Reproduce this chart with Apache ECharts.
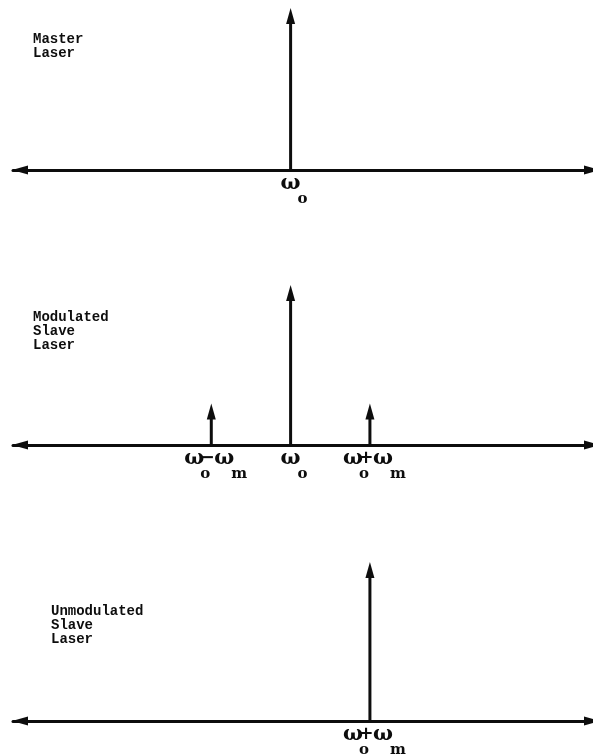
<!DOCTYPE html>
<html><head><meta charset="utf-8">
<script src="https://cdn.jsdelivr.net/npm/echarts@6/dist/echarts.min.js"></script>
<style>html,body{margin:0;padding:0;background:#fff}#c{width:593px;height:755px}</style>
</head><body><div id="c"></div>
<script>
// ---- data ----
const panelTitles = ['Master\nLaser', 'Modulated\nSlave\nLaser', 'Unmodulated\nSlave\nLaser'];
// frequency in units of omega_m, relative to omega_o
const masterFreq = [0];
const masterAmp = [1];
const modFreq = [-1, 0, 1];
const modAmp = [0.26, 1, 0.26];
const unmodFreq = [1];
const unmodAmp = [1];
const masterTickLabels = ['ω_o'];
const modTickLabels = ['ω_o−ω_m', 'ω_o', 'ω_o+ω_m'];
const unmodTickLabels = ['ω_o+ω_m'];
const xMin = -3.5, xMax = 3.8;

const freqs = [masterFreq, modFreq, unmodFreq];
const amps = [masterAmp, modAmp, unmodAmp];
const tickLabels = [masterTickLabels, modTickLabels, unmodTickLabels];

// ---- layout ----
const grids = [
  {left: 13, right: 1, top: 8, height: 162},
  {left: 13, right: 1, top: 285, height: 160},
  {left: 13, right: 1, top: 562, height: 159}
];
const titlePos = [[33, 32], [33, 310], [51, 604]];
const INK = '#0d0d0d';

function spikeItem(params, api) {
  const x = api.value(0), a = api.value(1);
  const base = api.coord([x, 0]);
  const tip = api.coord([x, a]);
  const headLen = 16, headW = 9;
  return {type: 'group', children: [
    {type: 'line', shape: {x1: base[0], y1: base[1], x2: tip[0], y2: tip[1] + headLen - 2},
     style: {stroke: INK, lineWidth: 3}},
    {type: 'polygon', shape: {points: [[tip[0], tip[1]], [tip[0] - headW / 2, tip[1] + headLen], [tip[0] + headW / 2, tip[1] + headLen]]},
     style: {fill: INK}}
  ]};
}

function parseLabel(s) {
  return s.match(/^(.)_(.)(?:(.)(.)_(.))?$/);
}

function makeLabelRenderer(labels) {
  return function (params, api) {
    const x = api.value(0);
    const p = api.coord([x, 0]);
    const m = parseLabel(labels[params.dataIndex]);
    const big = {font: 'bold 21px "DejaVu Serif", serif', fill: INK, align: 'center', verticalAlign: 'middle'};
    const op = {font: 'bold 18px "DejaVu Sans", sans-serif', fill: INK, align: 'center', verticalAlign: 'middle'};
    const sub = {font: 'bold 15px "DejaVu Serif", serif', fill: INK, align: 'center', verticalAlign: 'middle'};
    const kids = [];
    const yMain = p[1] + 14, ySub = p[1] + 29;
    if (!m[3]) {
      kids.push({type: 'text', style: Object.assign({text: m[1], x: p[0], y: yMain}, big)});
      kids.push({type: 'text', style: Object.assign({text: m[2], x: p[0] + 12, y: ySub}, sub)});
    } else {
      kids.push({type: 'text', style: Object.assign({text: m[1], x: p[0] - 17, y: yMain}, big)});
      kids.push({type: 'text', style: Object.assign({text: m[3], x: p[0] - 4, y: yMain - 1}, op)});
      kids.push({type: 'text', style: Object.assign({text: m[4], x: p[0] + 13, y: yMain}, big)});
      kids.push({type: 'text', style: Object.assign({text: m[2], x: p[0] - 6, y: ySub}, sub)});
      kids.push({type: 'text', style: Object.assign({text: m[5], x: p[0] + 28, y: ySub}, sub)});
    }
    return {type: 'group', children: kids};
  };
}

const option = {
  backgroundColor: '#fff',
  animation: false,
  grid: grids,
  xAxis: grids.map((g, i) => ({
    gridIndex: i, type: 'value', min: xMin, max: xMax,
    axisLine: {show: true, onZero: false, symbol: ['triangle', 'triangle'], symbolSize: [9, 16],
               symbolOffset: [7, 0],
               lineStyle: {color: INK, width: 3}},
    axisTick: {show: false}, axisLabel: {show: false}, splitLine: {show: false}
  })),
  yAxis: grids.map((g, i) => ({
    gridIndex: i, type: 'value', min: 0, max: 1, show: false
  })),
  graphic: panelTitles.map((t, i) => ({
    type: 'text', left: titlePos[i][0], top: titlePos[i][1],
    style: {text: t, font: 'bold 14px "Liberation Mono", monospace', lineHeight: 14, fill: INK}
  })),
  series: []
};

freqs.forEach((f, i) => {
  option.series.push({
    type: 'custom', xAxisIndex: i, yAxisIndex: i, clip: false,
    renderItem: spikeItem,
    data: f.map((x, j) => [x, amps[i][j]])
  });
  option.series.push({
    type: 'custom', xAxisIndex: i, yAxisIndex: i, clip: false,
    renderItem: makeLabelRenderer(tickLabels[i]),
    data: f.map((x) => [x, 0])
  });
});

const chart = echarts.init(document.getElementById('c'), null, {renderer: 'canvas'});
chart.setOption(option);
</script>
</body></html>
